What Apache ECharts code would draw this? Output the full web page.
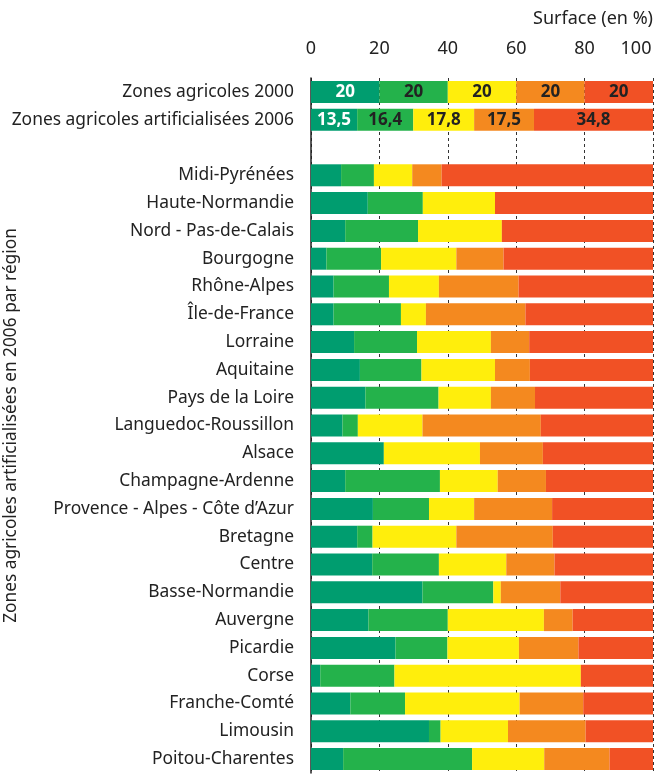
<!DOCTYPE html>
<html><head><meta charset="utf-8">
<script src="https://cdn.jsdelivr.net/npm/echarts@6/dist/echarts.min.js"></script>
<style>html,body{margin:0;padding:0;background:#fff}#c{width:667px;height:781px}</style>
</head><body><div id="c"></div>
<script>
const categories = ["Zones agricoles 2000","Zones agricoles artificialisées 2006","","Midi-Pyrénées","Haute-Normandie","Nord - Pas-de-Calais","Bourgogne","Rhône-Alpes","Île-de-France","Lorraine","Aquitaine","Pays de la Loire","Languedoc-Roussillon","Alsace","Champagne-Ardenne","Provence - Alpes - Côte d’Azur","Bretagne","Centre","Basse-Normandie","Auvergne","Picardie","Corse","Franche-Comté","Limousin","Poitou-Charentes"];
const s1 = [20,13.5,null,8.8,16.6,10.0,4.5,6.6,6.6,12.6,14.3,15.9,9.2,21.3,10.0,18.1,13.5,17.9,32.6,16.8,24.7,2.7,11.5,34.5,9.4];
const s2 = [20,16.4,null,9.6,16.1,21.3,16.0,16.2,19.7,18.4,18.0,21.4,4.5,0,27.7,16.4,4.5,19.5,20.7,23.2,15.2,21.7,16.0,3.4,37.7];
const s3 = [20,17.8,null,11.2,21.1,24.5,22.0,14.6,7.3,21.6,21.5,15.3,18.9,28.1,16.9,13.2,24.5,19.7,2.2,28.1,20.9,54.5,33.5,19.7,21.1];
const s4 = [20,17.5,null,8.6,0,0,13.8,23.3,29.1,11.2,10.2,12.9,34.6,18.4,14.1,22.8,28.2,14.1,17.4,8.4,17.4,0,18.6,22.7,19.1];
const s5 = [20,34.8,null,61.8,46.2,44.2,43.7,39.3,37.3,36.2,36.0,34.5,32.8,32.2,31.3,29.5,29.3,28.8,27.1,23.5,21.8,21.1,20.4,19.7,12.7];
const tickLabels = ["0","20","40","60","80","100"];
const colors = ["#009D6F","#24B24B","#FFEE0C","#F4891F","#F15125"];
const labelled = 2;

const font = "Noto Sans";
function mk(arr, i){
  return {
    type:'bar', stack:'t', barWidth:22, silent:true,
    itemStyle:{color:colors[i]},
    data: arr.map((v,k)=>({
      value:v,
      label:{show:k<labelled, position:'inside', fontFamily:font, fontSize:17, fontWeight:'bold',
        color: i===0 ? '#fff' : '#222',
        formatter: p => String(p.value).replace('.',',')}
    }))
  };
}
const chart = echarts.init(document.getElementById('c'),null,{renderer:'canvas'});
chart.setOption({
  animation:false,
  title:{text:'Surface (en %)', right:9, top:5, textStyle:{fontFamily:font,fontSize:18,fontWeight:'normal',color:'#222'}},
  grid:{left:311, right:14, top:78, bottom:8, containLabel:false, outerBoundsMode:'none'},
  xAxis:{type:'value', position:'top', min:0, max:100, interval:20,
    axisLine:{show:false}, axisTick:{show:false},
    axisLabel:{margin:20, fontFamily:font, fontSize:18, color:'#222',
      formatter:(v)=>{const t=tickLabels[Math.round(v/20)]; return v===100?'{r|'+t+'}':t;},
      rich:{r:{fontFamily:font,fontSize:18,color:'#222',padding:[0,34,0,0]}}},
    splitLine:{show:true, lineStyle:{type:[3,3], color:'#333', width:1}}},
  yAxis:{type:'category', inverse:true, data:categories,
    name:'Zones agricoles artificialisées en 2006 par région', nameLocation:'middle', nameGap:291, nameRotate:90,
    nameMoveOverlap:false,
    nameTextStyle:{fontFamily:font,fontSize:17.3,color:'#222'},
    axisLine:{show:true, lineStyle:{color:'#222',width:1.5}}, axisTick:{show:false},
    axisLabel:{margin:17, fontFamily:font, fontSize:17.4, color:'#222'}},
  series:[mk(s1,0),mk(s2,1),mk(s3,2),mk(s4,3),mk(s5,4)]
});
</script></body></html>
